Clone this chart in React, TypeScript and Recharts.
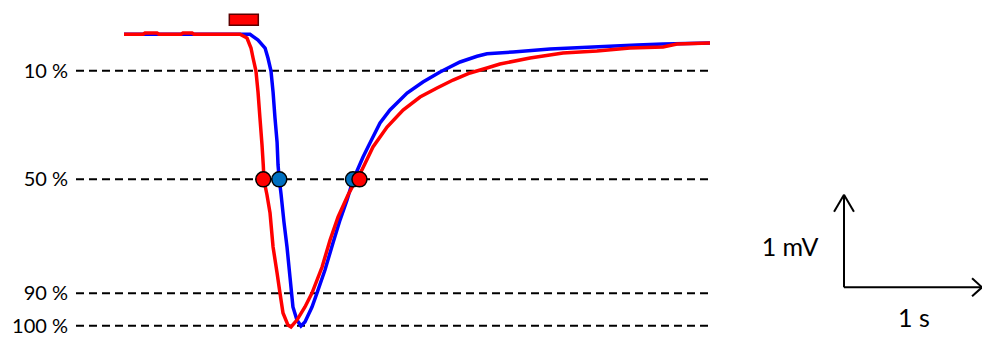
import React from 'react';
import {
  LineChart, Line, XAxis, YAxis, ReferenceLine, ReferenceDot, ReferenceArea,
} from 'recharts';

// Time in seconds, amplitude in mV (baseline = 0)
const blueTime = [0.348, 1.261, 1.319, 1.370, 1.391, 1.413, 1.428, 1.442, 1.457, 1.464, 1.473, 1.486, 1.507, 1.529, 1.551, 1.572, 1.601, 1.630, 1.659, 1.710, 1.746, 1.804, 1.862, 1.913, 1.964, 2.007, 2.036, 2.080, 2.130, 2.203, 2.275, 2.399, 2.514, 2.638, 2.783, 2.906, 2.978, 3.167, 3.435, 3.746, 4.065, 4.254, 4.594];
const blueVolt = [0, 0, -0.062, -0.148, -0.256, -0.397, -0.624, -0.905, -1.164, -1.413, -1.568, -1.730, -2.030, -2.299, -2.630, -2.948, -3.089, -3.154, -3.110, -2.948, -2.797, -2.548, -2.256, -2.008, -1.791, -1.575, -1.478, -1.326, -1.175, -0.959, -0.818, -0.635, -0.516, -0.408, -0.299, -0.237, -0.210, -0.191, -0.159, -0.137, -0.116, -0.105, -0.094];

const redTime = [0.348, 0.486, 0.500, 0.587, 0.601, 0.761, 0.775, 0.841, 0.855, 1.188, 1.239, 1.268, 1.283, 1.304, 1.319, 1.333, 1.348, 1.357, 1.362, 1.384, 1.406, 1.428, 1.457, 1.478, 1.500, 1.536, 1.558, 1.601, 1.659, 1.710, 1.783, 1.841, 1.899, 1.971, 2.029, 2.072, 2.152, 2.254, 2.370, 2.493, 2.616, 2.732, 2.855, 2.978, 3.072, 3.290, 3.529, 3.775, 4.014, 4.254, 4.355, 4.594];
const redVolt = [0, 0, 0.014, 0.014, 0, 0, 0.014, 0.014, 0, 0, -0.040, -0.148, -0.256, -0.397, -0.624, -0.905, -1.197, -1.413, -1.575, -1.737, -1.932, -2.299, -2.581, -2.797, -3.013, -3.143, -3.164, -3.089, -2.948, -2.797, -2.516, -2.224, -1.975, -1.737, -1.575, -1.467, -1.218, -1.002, -0.818, -0.678, -0.581, -0.494, -0.418, -0.364, -0.321, -0.256, -0.202, -0.181, -0.148, -0.137, -0.105, -0.094];

// Threshold levels (mV) and their labels
const levelValues = [-0.394, -1.568, -2.800, -3.150];
const levelLabels = ['10 %', '50 %', '90 %', '100 %'];
const levelStart = 0;
const levelEnd = 4.609;

// 50 % crossing markers (s)
const redMarkers = [1.357, 2.054];
const blueMarkers = [1.473, 2.007];
const markerLevel = -1.568;

// Stimulus bar
const stimStart = 1.111;
const stimEnd = 1.321;
const stimLow = 0.097;
const stimHigh = 0.216;

// Scale bar: 1 s, 1 mV
const scaleOriginT = 5.565;
const scaleOriginV = -2.735;
const scaleT = 1;
const scaleV = 1;

const blueData = blueTime.map((t, i) => ({ t, v: blueVolt[i] }));
const redData = redTime.map((t, i) => ({ t, v: redVolt[i] }));

const FONT = 'Lato, "Open Sans", sans-serif';

export default function App() {
  const headW = 0.072;
  const headLV = 0.184;
  const headHV = 0.097;
  const tipV = scaleOriginV + scaleV;
  const tipT = scaleOriginT + scaleT;
  return (
    <div style={{ position: 'absolute', left: 0, top: 0, width: 982, height: 338, background: '#fff', fontFamily: FONT }}>
      <LineChart width={982} height={338} margin={{ top: 0, right: 0, bottom: 0, left: 0 }}>
        <XAxis type="number" dataKey="t" domain={[0, 6.565]} hide allowDataOverflow />
        <YAxis
          type="number"
          domain={[-3.283, 0.371]}
          ticks={levelValues}
          interval={0}
          width={76}
          axisLine={false}
          tickLine={false}
          tickSize={0}
          tickMargin={8}
          allowDataOverflow
          tick={{ fontSize: 20, fontFamily: FONT, fill: '#000' }}
          tickFormatter={(v: number) => levelLabels[levelValues.indexOf(v)] ?? ''}
        />
        {levelValues.map((lv) => (
          <ReferenceLine
            key={lv}
            segment={[{ x: levelStart, y: lv }, { x: levelEnd, y: lv }]}
            stroke="#000"
            strokeWidth={2}
            strokeDasharray="8 5"
          />
        ))}
        <ReferenceArea
          x1={stimStart}
          x2={stimEnd}
          y1={stimLow}
          y2={stimHigh}
          fill="#FF0000"
          fillOpacity={1}
          stroke="#5C0000"
          strokeWidth={1.5}
        />
        <Line data={blueData} dataKey="v" type="linear" stroke="#0000FF" strokeWidth={3.5} dot={false} isAnimationActive={false} />
        <Line data={redData} dataKey="v" type="linear" stroke="#FF0000" strokeWidth={3.5} dot={false} isAnimationActive={false} />
        <ReferenceDot x={redMarkers[0]} y={markerLevel} r={7.5} fill="#FF0000" stroke="#000" strokeWidth={1.5} />
        <ReferenceDot x={blueMarkers[0]} y={markerLevel} r={7.5} fill="#0070C0" stroke="#000" strokeWidth={1.5} />
        <ReferenceDot x={blueMarkers[1]} y={markerLevel} r={7.5} fill="#0070C0" stroke="#000" strokeWidth={1.5} />
        <ReferenceDot x={redMarkers[1]} y={markerLevel} r={7.5} fill="#FF0000" stroke="#000" strokeWidth={1.5} />
        {/* scale bar */}
        <ReferenceLine segment={[{ x: scaleOriginT, y: scaleOriginV }, { x: scaleOriginT, y: tipV }]} stroke="#000" strokeWidth={2} />
        <ReferenceLine segment={[{ x: scaleOriginT - headW, y: tipV - headLV }, { x: scaleOriginT, y: tipV }]} stroke="#000" strokeWidth={2} />
        <ReferenceLine segment={[{ x: scaleOriginT + headW, y: tipV - headLV }, { x: scaleOriginT, y: tipV }]} stroke="#000" strokeWidth={2} />
        <ReferenceLine segment={[{ x: scaleOriginT, y: scaleOriginV }, { x: tipT, y: scaleOriginV }]} stroke="#000" strokeWidth={2} />
        <ReferenceLine segment={[{ x: tipT - headW, y: scaleOriginV + headHV }, { x: tipT, y: scaleOriginV }]} stroke="#000" strokeWidth={2} />
        <ReferenceLine segment={[{ x: tipT - headW, y: scaleOriginV - headHV }, { x: tipT, y: scaleOriginV }]} stroke="#000" strokeWidth={2} />
        <ReferenceDot
          x={5.174}
          y={-2.299}
          r={0}
          fill="none"
          stroke="none"
          label={{ value: '1 mV', position: 'center', fontSize: 25, fontFamily: FONT, fill: '#000' }}
        />
        <ReferenceDot
          x={6.072}
          y={-3.072}
          r={0}
          fill="none"
          stroke="none"
          label={{ value: '1 s', position: 'center', fontSize: 25, fontFamily: FONT, fill: '#000' }}
        />
      </LineChart>
    </div>
  );
}
